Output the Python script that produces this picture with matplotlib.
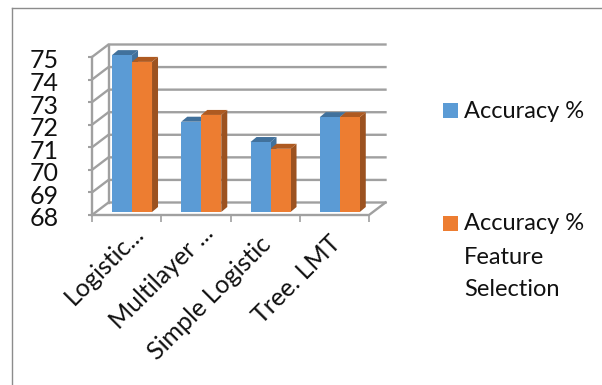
import matplotlib
matplotlib.use('Agg')
from matplotlib import pyplot as plt
from matplotlib.patches import Polygon, Rectangle
from matplotlib.transforms import ScaledTranslation

categories = ['Logistic...', 'Multilayer ...', 'Simple Logistic', 'Tree. LMT']
accuracy = [74.95, 72.0, 71.1, 72.2]
accuracy_fs = [74.65, 72.3, 70.8, 72.2]
y_ticks = [68, 69, 70, 71, 72, 73, 74, 75]

plt.rcParams['font.family'] = ['Lato', 'DejaVu Sans']

W, H = 602, 385
BLUE, BLUE_TOP, BLUE_SIDE = '#5b9bd5', '#41719c', '#41719c'
ORANGE, ORANGE_TOP, ORANGE_SIDE = '#ed7d31', '#ae5a21', '#9c5220'
GRID = '#a0a0a0'
TEXT = '#111111'

fig = plt.figure(figsize=(W / 100, H / 100), dpi=100)
ax = fig.add_axes([92 / W, 1 - 215 / H, 277 / W, 158 / H])
ax.set_xlim(0, 4)
ax.set_ylim(68, 75)

# pixel sizes expressed in data units, for the fake 3d depth
px_x = 4 / 277
px_y = 7 / 158
wall_dx, wall_dy = 16.5 * px_x, 12.5 * px_y
bar_dx, bar_dy = 5.4 * px_x, 3 * px_y
depth_dx, depth_dy = 6 * px_x, 5 * px_y
bar_w = 20 * px_x

for v in y_ticks:
    ax.plot([0, wall_dx, 4 + wall_dx], [v, v + wall_dy, v + wall_dy],
            color=GRID, lw=1.7, clip_on=False, zorder=1, solid_joinstyle='miter')
ax.plot([0, 0], [68, 75], color=GRID, lw=1.7, clip_on=False, zorder=1)
ax.plot([wall_dx, wall_dx], [68 + wall_dy, 75 + wall_dy], color=GRID, lw=1.7, clip_on=False, zorder=1)
ax.plot([0, 4, 4 + wall_dx], [68, 68, 68 + wall_dy], color=GRID, lw=1.7, clip_on=False, zorder=1)


def draw_bar(x0, v, face, top, side):
    x1 = x0 + bar_w
    b = 68 + bar_dy
    t = v + bar_dy
    ax.add_patch(Polygon([[x1, b], [x1 + depth_dx, b + depth_dy], [x1 + depth_dx, t + depth_dy], [x1, t]],
                         fc=side, ec='none', clip_on=False, zorder=3))
    ax.add_patch(Polygon([[x0, t], [x0 + depth_dx, t + depth_dy], [x1 + depth_dx, t + depth_dy], [x1, t]],
                         fc=top, ec='none', clip_on=False, zorder=3))
    ax.add_patch(Rectangle((x0, b), bar_w, t - b, fc=face, ec='none', clip_on=False, zorder=4))


for i in range(4):
    cx = i + 0.5 + bar_dx
    draw_bar(cx - bar_w, accuracy[i], BLUE, BLUE_TOP, BLUE_SIDE)
    draw_bar(cx, accuracy_fs[i], ORANGE, ORANGE_TOP, ORANGE_SIDE)

for s in ax.spines.values():
    s.set_visible(False)
ax.patch.set_visible(False)

ax.set_yticks(y_ticks)
ax.set_yticklabels([str(v) for v in y_ticks], fontsize=18, color=TEXT)
ax.tick_params(axis='y', length=3, width=1.5, color=GRID, pad=21)
down = ScaledTranslation(0, -2 / 100, fig.dpi_scale_trans)
for lab in ax.get_yticklabels():
    lab.set_transform(lab.get_transform() + down)

ax.set_xticks([0, 1, 2, 3, 4], minor=True)
ax.tick_params(axis='x', which='minor', length=5, width=1.2, color=GRID)
ax.set_xticks([0.5, 1.5, 2.5, 3.5])
ax.set_xticklabels(categories, rotation=45, ha='right', rotation_mode='anchor', fontsize=18, color=TEXT)
ax.tick_params(axis='x', which='major', length=0, pad=14)
# the rotated labels do not sit evenly under their slots
nudges = [(5, 13), (6, 13), (-6, 2), (-6, 3)]
for lab, (dx, dy) in zip(ax.get_xticklabels(), nudges):
    lab.set_transform(lab.get_transform() + ScaledTranslation(dx / 100, dy / 100, fig.dpi_scale_trans))

# legend, laid out by hand because the second entry wraps onto three lines
fig.add_artist(Rectangle((443 / W, 1 - 118 / H), 15 / W, 15 / H, transform=fig.transFigure, fc=BLUE, ec='none'))
fig.add_artist(Rectangle((443 / W, 1 - 231 / H), 15 / W, 15 / H, transform=fig.transFigure, fc=ORANGE, ec='none'))
for y, s in [(112, 'Accuracy %'), (224, 'Accuracy %'), (257, 'Feature'), (289, 'Selection')]:
    fig.text(464 / W, 1 - y / H, s, fontsize=17, color=TEXT, va='center', ha='left')

# chart frame, only the top and left edges are visible
fig.add_artist(plt.Line2D([11.5 / W, 11.5 / W], [0, 1 - 8 / H], color='#8c8c8c', lw=1))
fig.add_artist(plt.Line2D([11.5 / W, 1], [1 - 8 / H, 1 - 8 / H], color='#8c8c8c', lw=1))

fig.savefig('out.png', dpi=100)
